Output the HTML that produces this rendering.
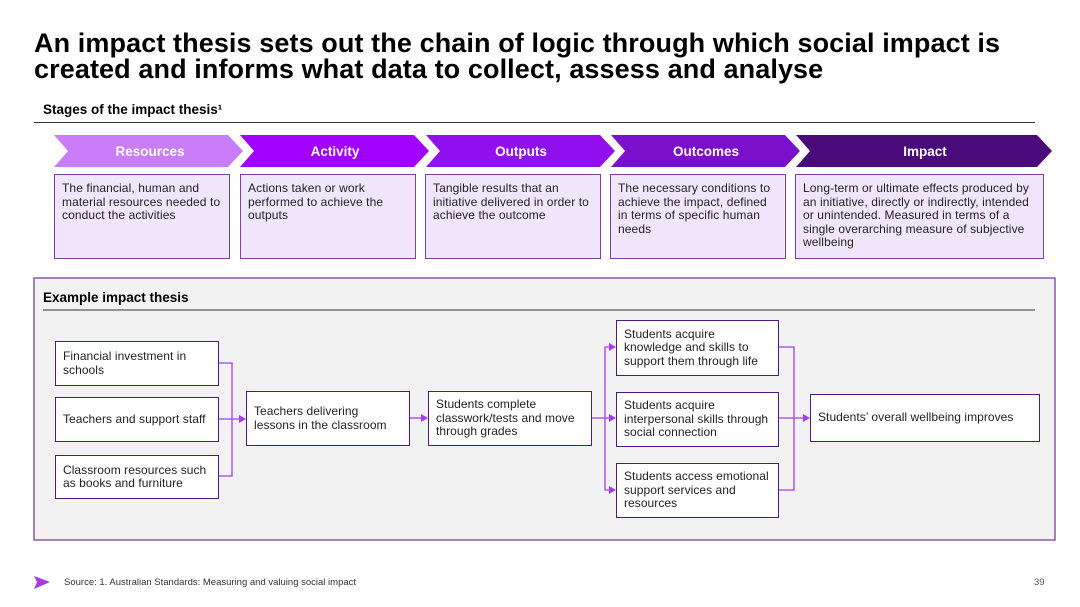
<!DOCTYPE html>
<html><head><meta charset="utf-8"><style>
body{margin:0;width:1080px;height:607px;background:#fff;font-family:"Liberation Sans",sans-serif;position:relative;overflow:hidden;color:#000}
.a{position:absolute}
h1{position:absolute;left:34px;top:30px;margin:0;font-size:27px;line-height:26px;font-weight:bold;letter-spacing:0.1px}
.sub{font-size:13.5px;font-weight:bold}
.d{position:absolute;box-sizing:border-box;border:1.5px solid #7b3fa6;background:#efe6fb;font-size:12px;letter-spacing:0.1px;line-height:13.5px;padding:7px 7px;color:#222}
.n{position:absolute;box-sizing:border-box;border:1.5px solid #4f1a80;background:#fff;font-size:12px;letter-spacing:0.05px;line-height:13.5px;padding:0 7px;color:#222;display:flex;align-items:center}
</style></head><body>
<h1>An impact thesis sets out the chain of logic through which social impact is<br>created and informs what data to collect, assess and analyse</h1>
<div class="a sub" style="left:43px;top:102px">Stages of the impact thesis¹</div>
<div class="a" style="left:34px;top:122px;width:1001px;height:1px;background:#333"></div>
<svg class="a" style="left:0;top:0" width="1080" height="607">
<g font-family="Liberation Sans" font-weight="bold" font-size="13.5" fill="#fff" text-anchor="middle">
<polygon points="54,135 228,135 243,151 228,167 54,167 68,151" fill="#c97df9"/>
<text x="150" y="156">Resources</text>
<polygon points="240,135 414,135 429,151 414,167 240,167 254,151" fill="#a100ff"/>
<text x="335" y="156">Activity</text>
<polygon points="426,135 600,135 615,151 600,167 426,167 440,151" fill="#9210f0"/>
<text x="521" y="156">Outputs</text>
<polygon points="611,135 785,135 800,151 785,167 611,167 625,151" fill="#7a10cc"/>
<text x="706" y="156">Outcomes</text>
<polygon points="796,135 1037,135 1052,151 1037,167 796,167 810,151" fill="#4a0a7a"/>
<text x="925" y="156">Impact</text>
</g>
<rect x="34" y="278" width="1021" height="262" fill="#f2f2f2" stroke="#8a5aa8" stroke-width="1.5"/>
<line x1="43" y1="310" x2="1035" y2="310" stroke="#333" stroke-width="1"/>
<g stroke="#a53cf0" stroke-width="1.3" fill="none">
<polyline points="218,363 232,363 232,476 218,476"/>
<line x1="218" y1="419" x2="240" y2="419"/>
<line x1="409" y1="418" x2="422" y2="418"/>
<line x1="591" y1="418" x2="610" y2="418"/>
<polyline points="610,347 605,347 605,490 610,490"/>
<polyline points="778,347 794,347 794,490 778,490"/>
<line x1="778" y1="418" x2="804" y2="418"/>
</g>
<g fill="#a53cf0">
<polygon points="246,419 239,415 239,423"/>
<polygon points="428,418 421,414 421,422"/>
<polygon points="616,347 609,343 609,351"/>
<polygon points="616,418 609,414 609,422"/>
<polygon points="616,490 609,486 609,494"/>
<polygon points="810,418 803,414 803,422"/>
<polygon points="34,576 50,582 34,589 37,582"/>
</g>
</svg>
<div class="d" style="left:54px;top:174px;width:176px;height:85px">The financial, human and material resources needed to conduct the activities</div>
<div class="d" style="left:240px;top:174px;width:176px;height:85px">Actions taken or work performed to achieve the outputs</div>
<div class="d" style="left:425px;top:174px;width:176px;height:85px">Tangible results that an initiative delivered in order to achieve the outcome</div>
<div class="d" style="left:610px;top:174px;width:176px;height:85px">The necessary conditions to achieve the impact, defined in terms of specific human needs</div>
<div class="d" style="left:795px;top:174px;width:249px;height:85px">Long-term or ultimate effects produced by an initiative, directly or indirectly, intended or unintended. Measured in terms of a single overarching measure of subjective wellbeing</div>
<div class="a sub" style="left:43px;top:290px">Example impact thesis</div>
<div class="n" style="left:55px;top:341px;width:164px;height:45px">Financial investment in schools</div>
<div class="n" style="left:55px;top:397px;width:164px;height:45px">Teachers and support staff</div>
<div class="n" style="left:55px;top:455px;width:164px;height:44px">Classroom resources such as books and furniture</div>
<div class="n" style="left:246px;top:391px;width:164px;height:55px">Teachers delivering lessons in the classroom</div>
<div class="n" style="left:428px;top:391px;width:164px;height:55px">Students complete classwork/tests and move through grades</div>
<div class="n" style="left:616px;top:320px;width:163px;height:56px">Students acquire knowledge and skills to support them through life</div>
<div class="n" style="left:616px;top:392px;width:163px;height:55px">Students acquire interpersonal skills through social connection</div>
<div class="n" style="left:616px;top:463px;width:163px;height:55px">Students access emotional support services and resources</div>
<div class="n" style="left:810px;top:394px;width:230px;height:48px">Students’ overall wellbeing improves</div>
<div class="a" style="left:64px;top:577px;font-size:9.5px;color:#333">Source: 1. Australian Standards: Measuring and valuing social impact</div>
<div class="a" style="left:1034px;top:577px;font-size:9.5px;color:#555">39</div>
</body></html>
